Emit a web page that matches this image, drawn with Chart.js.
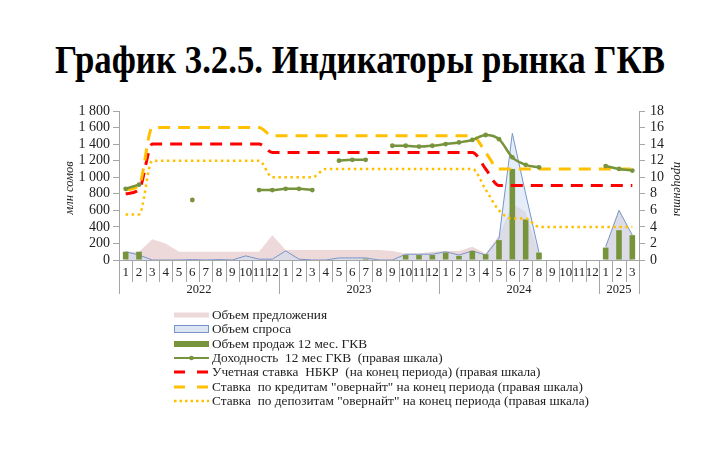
<!DOCTYPE html>
<html>
<head>
<meta charset="utf-8">
<script src="https://cdn.jsdelivr.net/npm/chart.js@4.4.1/dist/chart.umd.min.js"></script>
<style>
  body { margin: 0; background: #fff; }
  #wrap { position: relative; width: 720px; height: 451px; overflow: hidden; }
  #title { position: absolute; left: 0; top: 35px; width: 720px; text-align: center;
           font: bold 41px "Liberation Serif", serif; color: #000; white-space: nowrap; }
  #title span { display: inline-block; transform-origin: center; }
  canvas { position: absolute; left: 0; top: 0; }
  #legend { position: absolute; left: 173px; top: 308px; font: 13.3px "Liberation Serif", serif; color: #222; }
  .row { height: 14.3px; display: flex; align-items: center; white-space: pre; }
  .row svg { width: 38px; height: 12px; flex: none; margin-right: 1px; }
</style>
</head>
<body>
<div id="wrap">
  <div id="title"><span>График 3.2.5. Индикаторы рынка ГКВ</span></div>
  <canvas id="gkvChart" width="720" height="451"></canvas>
  <div id="legend">
    <div class="row"><svg viewBox="0 0 38 12"><rect x="1" y="3.5" width="35" height="5" fill="#eed9da"/></svg>Объем предложения</div>
    <div class="row"><svg viewBox="0 0 38 12"><rect x="1.5" y="2.5" width="34" height="7" fill="#dce6f2" stroke="#7895c9" stroke-width="1"/></svg>Объем спроса</div>
    <div class="row"><svg viewBox="0 0 38 12"><rect x="1" y="3" width="35" height="6" fill="#77933c"/></svg>Объем продаж 12 мес. ГКВ</div>
    <div class="row"><svg viewBox="0 0 38 12"><line x1="1" y1="6" x2="36" y2="6" stroke="#77933c" stroke-width="2"/><circle cx="18.5" cy="6" r="2.3" fill="#77933c"/></svg>Доходность  12 мес ГКВ  (правая шкала)</div>
    <div class="row"><svg viewBox="0 0 38 12"><line x1="1" y1="6" x2="36" y2="6" stroke="#ff0000" stroke-width="3" stroke-dasharray="11 12"/></svg>Учетная ставка  НБКР  (на конец периода) (правая шкала)</div>
    <div class="row"><svg viewBox="0 0 38 12"><line x1="1" y1="6" x2="36" y2="6" stroke="#ffc000" stroke-width="3" stroke-dasharray="11 12"/></svg>Ставка  по кредитам "овернайт" на конец периода (правая шкала)</div>
    <div class="row"><svg viewBox="0 0 38 12"><line x1="1" y1="6" x2="36" y2="6" stroke="#ffc000" stroke-width="2.5" stroke-dasharray="2.5 3"/></svg>Ставка  по депозитам "овернайт" на конец периода (правая шкала)</div>
  </div>
</div>
<script>
// categories
const years = ['2022', '2023', '2024', '2025'];
const yearLengths = [12, 12, 12, 3];
const monthLabels = [
  '1','2','3','4','5','6','7','8','9','10','11','12',
  '1','2','3','4','5','6','7','8','9','10','11','12',
  '1','2','3','4','5','6','7','8','9','10','11','12',
  '1','2','3'
];

// left scale, млн сомов
const offerVolume = [
  100, 100, 250, 200, 100, 100, 100, 100, 100, 100, 100, 300,
  120, 120, 120, 120, 120, 120, 120, 120, 110, 80, 80, 100,
  110, 110, 160, 80, 300, 680, 580, 80, null, null, null, null,
  160, 600, 300
];
const demandVolume = [
  100, 60, 0, 0, 0, 5, 0, 5, 0, 50, 10, 10,
  110, 10, 0, 0, 25, 25, 25, 0, 0, 70, 70, 70,
  100, 60, 110, 60, 260, 1530, 800, 90, null, null, null, null,
  160, 600, 300
];
const salesVolume = [
  100, 100, 0, 0, 0, 0, 0, 0, 0, 0, 0, 0,
  0, 0, 0, 0, 0, 0, 15, 0, 0, 60, 60, 60,
  90, 50, 110, 70, 240, 1100, 490, 90, 0, 0, 0, 0,
  150, 360, 300
];

// right scale, проценты
const yield12m = [
  8.6, 9.1, null, null, null, 7.25, null, null, null, null, 8.45, 8.45,
  8.6, 8.6, 8.45, null, 12.0, 12.1, 12.1, null, 13.8, 13.8, 13.7, 13.8,
  14.0, 14.2, 14.5, 15.1, 14.6, 12.4, 11.5, 11.2, null, null, null, null,
  11.35, 11.0, 10.8
];
const policyRate = [
  8, 8.5, 14, 14, 14, 14, 14, 14, 14, 14, 14, 13,
  13, 13, 13, 13, 13, 13, 13, 13, 13, 13, 13, 13,
  13, 13, 13, 11, 9, 9, 9, 9, 9, 9, 9, 9,
  9, 9, 9
];
const overnightCredit = [
  8.5, 9, 16, 16, 16, 16, 16, 16, 16, 16, 16, 15,
  15, 15, 15, 15, 15, 15, 15, 15, 15, 15, 15, 15,
  15, 15, 15, 13, 11, 11, 11, 11, 11, 11, 11, 11,
  11, 11, 11
];
const overnightDeposit = [
  5.5, 5.5, 12, 12, 12, 12, 12, 12, 12, 12, 12, 10,
  10, 10, 10, 11, 11, 11, 11, 11, 11, 11, 11, 11,
  11, 11, 11, 8.5, 6, 5, 5, 4, 4, 4, 4, 4,
  4, 4, 4
];

const serif = '"Liberation Serif", "Times New Roman", serif';

// fit the condensed title to its width
(function () {
  const span = document.querySelector('#title span');
  const w = span.getBoundingClientRect().width;
  span.style.transform = 'scaleX(' + (610 / w) + ')';
})();

// month numbers, separators, years and axis titles
const categoryAxisPlugin = {
  id: 'categoryAxis',
  afterDraw(chart) {
    const { ctx, chartArea, scales } = chart;
    const x = scales.x;
    const base = chartArea.bottom;
    const n = monthLabels.length;
    const step = x.getPixelForValue(1) - x.getPixelForValue(0);

    const yearEdges = new Set([0]);
    let acc = 0;
    yearLengths.forEach(len => { acc += len; yearEdges.add(acc); });

    ctx.save();
    ctx.strokeStyle = '#a6a6a6';
    ctx.lineWidth = 1;
    ctx.beginPath();
    ctx.moveTo(chartArea.left, base + 0.5);
    ctx.lineTo(chartArea.right, base + 0.5);
    ctx.stroke();

    for (let k = 0; k <= n; k++) {
      const bx = Math.round(x.getPixelForValue(k) - step / 2) + 0.5;
      ctx.beginPath();
      ctx.moveTo(bx, base);
      ctx.lineTo(bx, base + (yearEdges.has(k) ? 34 : 22));
      ctx.stroke();
    }

    ctx.fillStyle = '#222';
    ctx.textAlign = 'center';
    ctx.textBaseline = 'middle';
    ctx.font = '13px ' + serif;
    monthLabels.forEach((m, i) => ctx.fillText(m, x.getPixelForValue(i), base + 13));

    ctx.font = '12.5px ' + serif;
    let start = 0;
    years.forEach((yr, j) => {
      const len = yearLengths[j];
      const cx = (x.getPixelForValue(start) + x.getPixelForValue(start + len - 1)) / 2;
      ctx.fillText(yr, cx, base + 30);
      start += len;
    });

    // axis titles
    ctx.font = 'italic 12.5px ' + serif;
    ctx.save();
    ctx.translate(chartArea.left - 49, 188);
    ctx.rotate(-Math.PI / 2);
    ctx.fillText('млн сомов', 0, 0);
    ctx.restore();
    ctx.save();
    ctx.translate(chartArea.right + 38, 189);
    ctx.rotate(Math.PI / 2);
    ctx.fillText('проценты', 0, 0);
    ctx.restore();
    ctx.restore();
  }
};

function rightLine(label, data, color, width, dash) {
  return {
    type: 'line',
    label: label,
    data: data,
    yAxisID: 'y1',
    borderColor: color,
    borderWidth: width,
    borderDash: dash,
    pointRadius: 0,
    fill: false,
    tension: 0.4,
    cubicInterpolationMode: 'monotone',
    spanGaps: false,
    order: 1
  };
}

const chart = new Chart(document.getElementById('gkvChart'), {
  type: 'bar',
  data: {
    labels: monthLabels,
    datasets: [
      {
        type: 'line',
        label: 'Объем предложения',
        data: offerVolume,
        yAxisID: 'y',
        borderColor: 'rgba(0,0,0,0)',
        borderWidth: 0,
        backgroundColor: '#eed9da',
        fill: 'origin',
        pointRadius: 0,
        tension: 0,
        order: 5
      },
      {
        type: 'line',
        label: 'Объем спроса',
        data: demandVolume,
        yAxisID: 'y',
        borderColor: '#7895c9',
        borderWidth: 1,
        backgroundColor: 'rgba(205,222,242,0.55)',
        fill: 'origin',
        pointRadius: 0,
        tension: 0,
        order: 4
      },
      {
        type: 'bar',
        label: 'Объем продаж 12 мес. ГКВ',
        data: salesVolume,
        yAxisID: 'y',
        backgroundColor: '#77933c',
        barPercentage: 0.42,
        categoryPercentage: 1,
        order: 3
      },
      rightLine('Ставка  по депозитам "овернайт" на конец периода (правая шкала)', overnightDeposit, '#ffc000', 2.5, [2.5, 3.5]),
      rightLine('Ставка  по кредитам "овернайт" на конец периода (правая шкала)', overnightCredit, '#ffc000', 3, [12, 8]),
      rightLine('Учетная ставка  НБКР  (на конец периода) (правая шкала)', policyRate, '#ff0000', 3, [12, 8]),
      {
        type: 'line',
        label: 'Доходность  12 мес ГКВ  (правая шкала)',
        data: yield12m,
        yAxisID: 'y1',
        borderColor: '#77933c',
        borderWidth: 2.5,
        pointRadius: 2.4,
        pointBackgroundColor: '#77933c',
        pointBorderWidth: 0,
        fill: false,
        tension: 0.3,
        cubicInterpolationMode: 'monotone',
        spanGaps: false,
        order: 0
      }
    ]
  },
  options: {
    responsive: false,
    animation: false,
    layout: {
      padding: { top: 111, bottom: 191, left: 0, right: 0 }
    },
    scales: {
      x: {
        display: false,
        offset: true
      },
      y: {
        position: 'left',
        min: 0,
        max: 1800,
        afterFit: s => { s.width = 119; },
        border: { display: true, color: '#a6a6a6' },
        grid: { drawOnChartArea: false, drawTicks: true, tickLength: 6, color: '#a6a6a6' },
        ticks: {
          stepSize: 200,
          autoSkip: false,
          padding: 3,
          color: '#222',
          font: { family: serif, size: 14 },
          callback: v => String(v).replace(/\B(?=(\d{3})+(?!\d))/g, ' ')
        }
      },
      y1: {
        position: 'right',
        min: 0,
        max: 18,
        afterFit: s => { s.width = 81; },
        border: { display: true, color: '#a6a6a6' },
        grid: { drawOnChartArea: false, drawTicks: true, tickLength: 6, color: '#a6a6a6' },
        ticks: {
          stepSize: 2,
          autoSkip: false,
          padding: 5,
          color: '#222',
          font: { family: serif, size: 14 }
        }
      }
    },
    plugins: {
      legend: { display: false },
      tooltip: { enabled: false }
    }
  },
  plugins: [categoryAxisPlugin]
});
</script>
</body>
</html>
